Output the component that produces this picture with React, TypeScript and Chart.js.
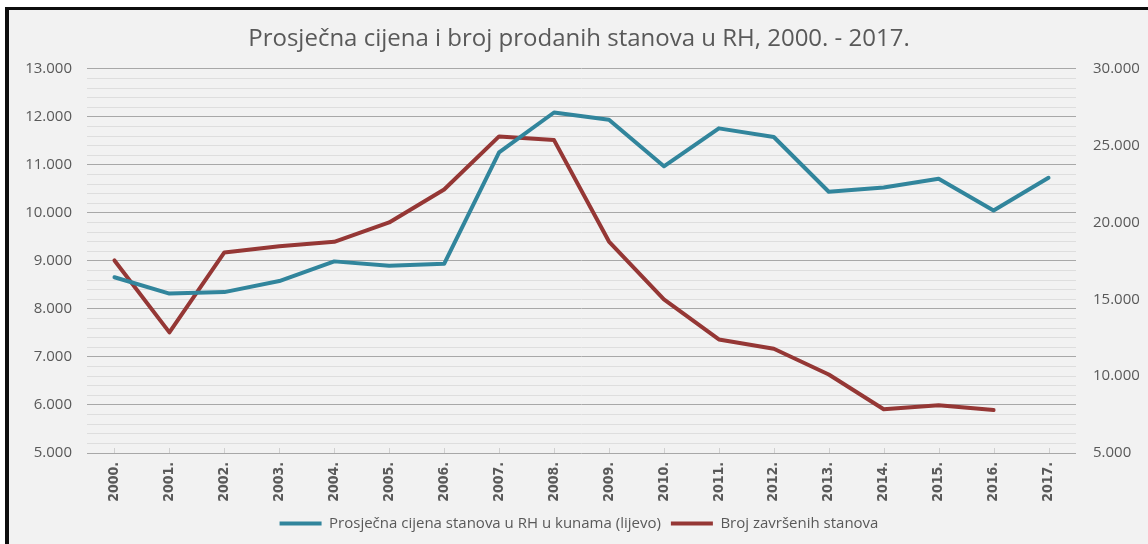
import React, { useEffect, useRef } from "react";
import { Chart, registerables } from "chart.js";

Chart.register(...registerables);

const TITLE = "Prosječna cijena i broj prodanih stanova u RH, 2000. - 2017.";
const YEARS = [
  "2000.", "2001.", "2002.", "2003.", "2004.", "2005.", "2006.", "2007.", "2008.",
  "2009.", "2010.", "2011.", "2012.", "2013.", "2014.", "2015.", "2016.", "2017.",
];
const PRICE_LABEL = "Prosječna cijena stanova u RH u kunama (lijevo)";
const PRICE = [
  8660, 8320, 8350, 8580, 8990, 8900, 8940, 11260, 12090,
  11940, 10970, 11760, 11580, 10440, 10530, 10710, 10050, 10730,
];
const BUILT_LABEL = "Broj završenih stanova";
const BUILT = [
  17530, 12850, 18050, 18450, 18740, 20000, 22150, 25600, 25360,
  18760, 15000, 12390, 11780, 10110, 7850, 8100, 7800, null,
];
const LEFT_MIN = 5000;
const LEFT_MAX = 13000;
const RIGHT_MIN = 5000;
const RIGHT_MAX = 30000;

const BLUE = "#31859c";
const RED = "#953735";
const TEXT = "#595959";

const fmt = (v: number) => String(Math.round(v)).replace(/\B(?=(\d{3})+(?!\d))/g, ".");

const tickMarks = {
  id: "tickMarks",
  afterDatasetsDraw(chart: any) {
    const x = chart.scales.x;
    const ctx = chart.ctx;
    const bottom = chart.chartArea.bottom;
    ctx.save();
    ctx.strokeStyle = "#d0d0d0";
    ctx.lineWidth = 1;
    for (let i = 0; i < x.ticks.length; i++) {
      const px = Math.round(x.getPixelForTick(i)) + 0.5;
      ctx.beginPath();
      ctx.moveTo(px, bottom - 5);
      ctx.lineTo(px, bottom);
      ctx.stroke();
    }
    ctx.restore();
  },
};

export default function App() {
  const ref = useRef<HTMLCanvasElement | null>(null);

  useEffect(() => {
    if (!ref.current) return;
    const chart = new Chart(ref.current, {
      type: "line",
      data: {
        labels: YEARS,
        datasets: [
          {
            label: PRICE_LABEL,
            data: PRICE,
            yAxisID: "y",
            borderColor: BLUE,
            backgroundColor: BLUE,
            borderWidth: 4,
            pointRadius: 0,
            tension: 0,
            borderJoinStyle: "round",
            borderCapStyle: "round",
          },
          {
            label: BUILT_LABEL,
            data: BUILT,
            yAxisID: "y1",
            borderColor: RED,
            backgroundColor: RED,
            borderWidth: 4,
            pointRadius: 0,
            tension: 0,
            borderJoinStyle: "round",
            borderCapStyle: "round",
          },
        ],
      },
      options: {
        responsive: false,
        animation: false,
        layout: { padding: { left: 10, right: 0, top: 0, bottom: 3 } },
        plugins: {
          title: {
            display: true,
            text: TITLE,
            color: TEXT,
            font: { family: "'Open Sans', sans-serif", size: 24, weight: "normal" },
            padding: { top: 25, bottom: 15 },
          },
          legend: {
            position: "bottom",
            labels: {
              color: TEXT,
              font: { family: "'Open Sans', sans-serif", size: 15 },
              boxWidth: 42,
              boxHeight: 4,
              padding: 10,
              generateLabels: (c: any) =>
                c.data.datasets.map((ds: any, i: number) => ({
                  text: ds.label,
                  fillStyle: ds.borderColor,
                  strokeStyle: ds.borderColor,
                  lineWidth: 0,
                  fontColor: TEXT,
                  datasetIndex: i,
                  hidden: false,
                })),
            },
          },
          tooltip: { enabled: false },
        },
        scales: {
          x: {
            offset: true,
            grid: { display: false, drawTicks: false, offset: false },
            border: { display: false },
            ticks: {
              color: TEXT,
              minRotation: 90,
              maxRotation: 90,
              padding: 9,
              autoSkip: false,
              font: { family: "'Liberation Sans Narrow', 'DejaVu Sans Condensed', sans-serif", size: 14, weight: "bold" },
            },
            afterFit: (s: any) => {
              s.height = 53;
            },
          },
          y: {
            position: "left",
            min: LEFT_MIN,
            max: LEFT_MAX,
            border: { display: false },
            grid: {
              drawTicks: false,
              color: (c: any) => (c.tick && c.tick.value % 1000 === 0 ? "#a8a8a8" : "#dedede"),
              lineWidth: 1,
            },
            ticks: {
              stepSize: 200,
              autoSkip: false,
              padding: 15,
              color: TEXT,
              font: { family: "'Open Sans', sans-serif", size: 15 },
              callback: (v: any) => (Number(v) % 1000 === 0 ? fmt(Number(v)) : ""),
            },
            afterFit: (s: any) => {
              s.width = 77;
            },
          },
          y1: {
            position: "right",
            min: RIGHT_MIN,
            max: RIGHT_MAX,
            border: { display: false },
            grid: { drawOnChartArea: false, drawTicks: false },
            ticks: {
              stepSize: 5000,
              padding: 17,
              color: TEXT,
              font: { family: "'Open Sans', sans-serif", size: 15 },
              callback: (v: any) => fmt(Number(v)),
            },
            afterFit: (s: any) => {
              s.width = 72;
            },
          },
        },
      },
      plugins: [tickMarks],
    } as any);
    return () => chart.destroy();
  }, []);

  return (
    <div style={{ position: "fixed", left: 0, top: 0, width: 1148, height: 544, background: "#ffffff", overflow: "hidden" }}>
      <div
        style={{
          position: "absolute",
          left: 5,
          top: 7,
          width: 1143,
          height: 537,
          boxSizing: "border-box",
          background: "#f2f2f2",
          borderLeft: "4px solid #0d0d0d",
          borderTop: "3px solid #0d0d0d",
        }}
      />
      <canvas ref={ref} width={1148} height={544} style={{ position: "absolute", left: 0, top: 0 }} />
    </div>
  );
}
